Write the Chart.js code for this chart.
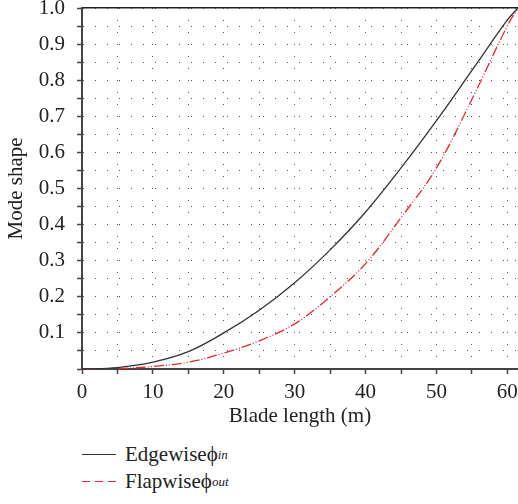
<!DOCTYPE html>
<html>
<head>
<meta charset="utf-8">
<script src="https://cdn.jsdelivr.net/npm/chart.js@4.4.0/dist/chart.umd.min.js"></script>
<style>
    body { margin: 0; background: #fff; font-family: "Liberation Serif", serif; }
    #wrap { position: relative; width: 518px; height: 432px; }
    #legend { margin-left: 82px; margin-top: 9px; font-size: 21px; color: #222; }
    .row { height: 27px; display: flex; align-items: center; }
    .sample { width: 34px; height: 1.3px; margin-right: 9px; }
    .solid { background: #333; }
    .dash { background: repeating-linear-gradient(90deg, #e8262c 0 8px, transparent 8px 13px); }
    sub { font-style: italic; font-size: 13px; vertical-align: -6px; }
</style>
</head>
<body>
<div id="wrap"><canvas id="modeChart"></canvas></div>
<div id="legend">
    <div class="row"><span class="sample solid"></span>Edgewiseϕ<sub>in</sub></div>
    <div class="row"><span class="sample dash"></span>Flapwiseϕ<sub>out</sub></div>
</div>
<script>
// blade length (m) and mode shape values
const bladeLength = [0, 5, 10, 15, 20, 25, 30, 35, 40, 45, 50, 55, 60, 61.5];
const edgewise = [0, 0.004, 0.019, 0.048, 0.10, 0.163, 0.239, 0.33, 0.435, 0.557, 0.688, 0.827, 0.967, 1.0];
const flapwise = [0, 0.001, 0.007, 0.019, 0.044, 0.078, 0.125, 0.20, 0.292, 0.419, 0.557, 0.747, 0.951, 1.0];

const xTickLabels = [0, 10, 20, 30, 40, 50, 60];
const yTickLabels = [0.1, 0.2, 0.3, 0.4, 0.5, 0.6, 0.7, 0.8, 0.9, 1.0];

const serifFont = "'Liberation Serif', serif";
Chart.defaults.font.family = serifFont;
Chart.defaults.font.size = 21;
Chart.defaults.color = '#222';

function toPoints(values) {
    return bladeLength.map((x, i) => ({ x: x, y: values[i] }));
}

// tick font options were not taking, so the labels are put on the scales here
const tickLabels = {
    id: 'tickLabels',
    afterDraw(chart) {
        const ctx = chart.ctx;
        const xs = chart.scales.x;
        const ys = chart.scales.y;
        ctx.save();
        ctx.font = '21px ' + serifFont;
        ctx.fillStyle = '#222';
        ctx.textBaseline = 'middle';
        ctx.textAlign = 'center';
        xTickLabels.forEach(v => ctx.fillText(String(v), xs.getPixelForValue(v), xs.top + 23));
        ctx.textAlign = 'right';
        yTickLabels.forEach(v => ctx.fillText(v.toFixed(1), ys.right - 17, ys.getPixelForValue(v)));
        ctx.restore();
    }
};

const gridDots = {
    color: '#555',
    lineWidth: 1,
    tickColor: '#444',
    tickWidth: 1.5,
    tickLength: 5
};

new Chart(document.getElementById('modeChart'), {
    type: 'line',
    data: {
        datasets: [{
            label: 'Edgewise',
            data: toPoints(edgewise),
            borderColor: '#333',
            borderWidth: 1.3,
            pointRadius: 0,
            tension: 0.35
        }, {
            label: 'Flapwise',
            data: toPoints(flapwise),
            borderColor: '#e8262c',
            borderWidth: 1.3,
            borderDash: [10, 2, 1, 2, 1, 2],
            pointRadius: 0,
            tension: 0.35
        }]
    },
    options: {
        responsive: true,
        maintainAspectRatio: false,
        animation: false,
        layout: { padding: { top: 8, right: 0, left: 0, bottom: 0 } },
        plugins: { legend: { display: false }, tooltip: { enabled: false } },
        scales: {
            x: {
                type: 'linear',
                min: 0,
                max: 61.5,
                grid: gridDots,
                border: { display: true, color: '#444', width: 2, dash: [1, 11] },
                ticks: { stepSize: 5, includeBounds: false, autoSkip: false, display: false },
                title: {
                    display: true,
                    text: 'Blade length (m)',
                    font: { family: serifFont, size: 21 },
                    padding: { top: 0, bottom: 3 }
                },
                afterFit: s => { s.height = 63; }
            },
            top: {
                type: 'linear',
                position: 'top',
                min: 0,
                max: 61.5,
                grid: { display: false, drawTicks: false },
                border: { display: true, color: '#222', width: 1.5 },
                ticks: { display: false },
                afterFit: s => { s.height = 0; }
            },
            y: {
                min: 0,
                max: 1,
                grid: gridDots,
                border: { display: true, color: '#444', width: 2, dash: [1, 11] },
                ticks: { stepSize: 0.05, autoSkip: false, display: false },
                title: {
                    display: true,
                    text: 'Mode shape',
                    font: { family: serifFont, size: 21 },
                    padding: { top: 4, bottom: 0 }
                },
                afterFit: s => { s.width = 82; }
            }
        }
    },
    plugins: [tickLabels]
});
</script>
</body>
</html>
